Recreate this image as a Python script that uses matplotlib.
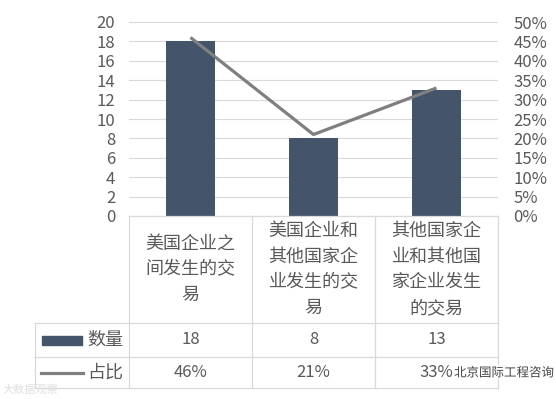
import numpy as np
import matplotlib
matplotlib.use('Agg')
import matplotlib.pyplot as plt
import matplotlib.patheffects as pe

plt.rcParams['font.family'] = ['Noto Sans CJK SC', 'DejaVu Sans']

categories = ['美国企业之间发生的交易',
              '美国企业和其他国家企业发生的交易',
              '其他国家企业和其他国家企业发生的交易']
counts = [18, 8, 13]
shares = [0.46, 0.21, 0.33]
series_names = ['数量', '占比']
left_ticks = list(range(0, 21, 2))
right_ticks = [i / 100 for i in range(0, 51, 5)]

bar_color = '#44546A'
line_color = '#7F7F7F'
grid_color = '#D9D9D9'
text_color = '#595959'

W, H = 556, 399
fig = plt.figure(figsize=(W / 100, H / 100), dpi=100)

# plot area in pixels: left, top, right, bottom
pl, pt, pr, pb = 129, 22, 498, 216
ax = fig.add_axes([pl / W, 1 - pb / H, (pr - pl) / W, (pb - pt) / H])
x = np.arange(len(categories))
ax.bar(x, counts, width=0.4, color=bar_color, zorder=2)
ax.set_xlim(-0.5, len(categories) - 0.5)
ax.set_ylim(0, 20)
ax.set_yticks(left_ticks)
ax.yaxis.grid(True, color=grid_color, lw=0.8, zorder=0)
ax.set_xticks([])
ax.tick_params(axis='y', length=0, pad=10, labelsize=12, labelcolor=text_color)
for s in ax.spines.values():
    s.set_visible(False)

ax2 = ax.twinx()
ax2.plot(x, shares, color=line_color, lw=2.3, zorder=3,
         solid_capstyle='butt')
ax2.set_ylim(0, 0.5)
ax2.set_yticks(right_ticks)
ax2.set_yticklabels(['%d%%' % round(v * 100) for v in right_ticks])
ax2.tick_params(axis='y', length=0, pad=11, labelsize=12, labelcolor=text_color)
for s in ax2.spines.values():
    s.set_visible(False)

# data table drawn in pixel coordinates
ov = fig.add_axes([0, 0, 1, 1])
ov.set_xlim(0, W)
ov.set_ylim(H, 0)
ov.axis('off')

col_w = (pr - pl) / len(categories)
t_left = 35
rows = [pb, 323, 357, 388]
lk = dict(color=grid_color, lw=0.9)
ov.plot([pl, pr], [rows[0], rows[0]], **lk)
for yy in rows[1:]:
    ov.plot([t_left, pr], [yy, yy], **lk)
ov.plot([t_left, t_left], [rows[1], rows[3]], **lk)
for i in range(len(categories) + 1):
    xx = pl + i * col_w
    ov.plot([xx, xx], [rows[0], rows[3]], **lk)

# category labels, 5 chars per line
mid = (rows[0] + rows[1]) / 2
for i, cat in enumerate(categories):
    lines = [cat[j:j + 5] for j in range(0, len(cat), 5)]
    cx = pl + (i + 0.5) * col_w
    n = len(lines)
    for k, ln in enumerate(lines):
        ov.text(cx, mid + (k - (n - 1) / 2) * 25.5, ln, ha='center',
                va='center', fontsize=13, color=text_color)

# legend keys
r1 = (rows[1] + rows[2]) / 2
r2 = (rows[2] + rows[3]) / 2
ov.add_patch(plt.Rectangle((42, r1 - 4.5), 40, 9, color=bar_color))
ov.plot([41, 83], [r2, r2], color=line_color, lw=2.3)
ov.text(87, r1, series_names[0], ha='left', va='center', fontsize=13,
        color=text_color)
ov.text(87, r2, series_names[1], ha='left', va='center', fontsize=13,
        color=text_color)

for i in range(len(categories)):
    cx = pl + (i + 0.5) * col_w
    ov.text(cx, r1, str(counts[i]), ha='center', va='center', fontsize=12,
            color=text_color)
    ov.text(cx, r2, '%d%%' % round(shares[i] * 100), ha='center',
            va='center', fontsize=12, color=text_color)

# watermarks
ov.text(454, 373, '北京国际工程咨询', ha='left', va='center', fontsize=9,
        color='#444444',
        path_effects=[pe.withStroke(linewidth=2.5, foreground='white')])
ov.text(2, 389, '大数据观察', ha='left', va='center', fontsize=8,
        color='#E0E0E0')

fig.savefig('out.png', dpi=100)
